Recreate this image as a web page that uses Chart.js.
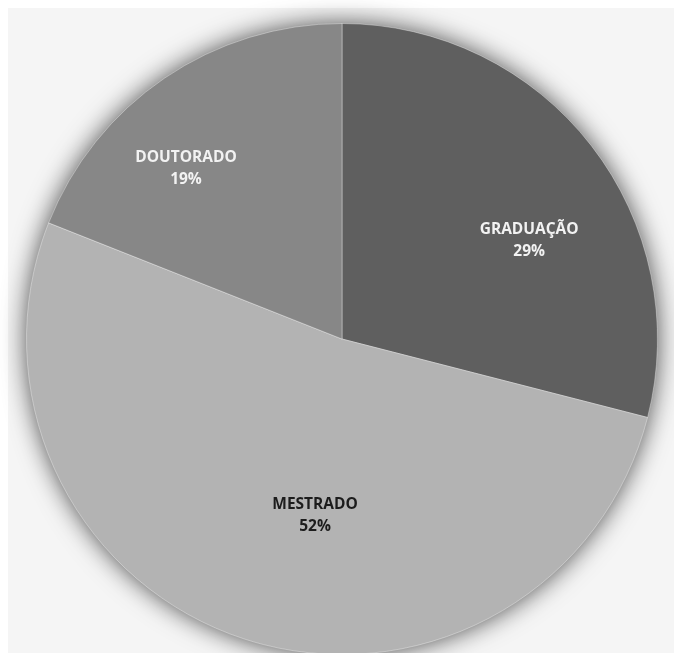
<!DOCTYPE html>
<html>
<head>
<meta charset="utf-8">
<script src="https://cdn.jsdelivr.net/npm/chart.js@4"></script>
<style>
html,body{margin:0;padding:0;background:#ffffff;overflow:hidden;}
#wrap{width:674px;height:653px;position:relative;overflow:hidden;}
</style>
</head>
<body>
<div id="wrap"><canvas id="c" width="674" height="660"></canvas></div>
<script>
const categories = ["GRADUAÇÃO", "MESTRADO", "DOUTORADO"];
const values = [29, 52, 19];
const percentLabels = ["29%", "52%", "19%"];

const sliceColors = ["#5f5f5f", "#b3b3b3", "#878787"];
const textColors = ["#f2f2f2", "#1c1c1c", "#f2f2f2"];
// label placement tweaks (angle shift in degrees, fraction of radius)
const labelAngleShift = [10.1, -9.3, -8.3];
const labelRadiusFrac = [0.67, 0.565, 0.732];

const bgPlugin = {
  id: 'bg',
  beforeDraw(chart) {
    const ctx = chart.ctx;
    ctx.save();
    ctx.fillStyle = '#ffffff';
    ctx.fillRect(0, 0, chart.width, chart.height);
    ctx.fillStyle = '#f5f5f5';
    ctx.fillRect(8, 8, chart.width - 8, chart.height - 8);
    ctx.restore();
  },
  beforeDatasetsDraw(chart) {
    const meta = chart.getDatasetMeta(0);
    const arc = meta.data[0];
    if (!arc) return;
    const ctx = chart.ctx;
    ctx.save();
    ctx.shadowColor = 'rgba(0,0,0,0.75)';
    ctx.shadowBlur = 26;
    ctx.fillStyle = '#9a9a9a';
    ctx.beginPath();
    ctx.arc(arc.x, arc.y, arc.outerRadius - 1, 0, Math.PI * 2);
    ctx.fill();
    ctx.restore();
  }
};

const labelPlugin = {
  id: 'sliceLabels',
  afterDatasetsDraw(chart) {
    const meta = chart.getDatasetMeta(0);
    const ctx = chart.ctx;
    ctx.save();
    ctx.font = '700 15.5px "Open Sans", sans-serif';
    ctx.textAlign = 'center';
    ctx.textBaseline = 'middle';
    meta.data.forEach((arc, i) => {
      const p = arc.getProps(['x', 'y', 'startAngle', 'endAngle', 'outerRadius'], true);
      const mid = (p.startAngle + p.endAngle) / 2 + labelAngleShift[i] * Math.PI / 180;
      const r = p.outerRadius * labelRadiusFrac[i];
      const lx = p.x + Math.cos(mid) * r;
      const ly = p.y + Math.sin(mid) * r;
      ctx.fillStyle = textColors[i];
      ctx.fillText(categories[i], lx, ly - 11);
      ctx.fillText(percentLabels[i], lx, ly + 11);
    });
    ctx.restore();
  }
};

new Chart(document.getElementById('c'), {
  type: 'pie',
  data: {
    labels: categories,
    datasets: [{
      data: values,
      backgroundColor: sliceColors,
      borderColor: 'rgba(255,255,255,0.35)',
      borderWidth: 1
    }]
  },
  options: {
    responsive: false,
    animation: false,
    rotation: 0,
    layout: { padding: { left: 26, right: 16, top: 23, bottom: 5 } },
    plugins: {
      legend: { display: false },
      tooltip: { enabled: false }
    }
  },
  plugins: [bgPlugin, labelPlugin]
});
</script>
</body>
</html>
